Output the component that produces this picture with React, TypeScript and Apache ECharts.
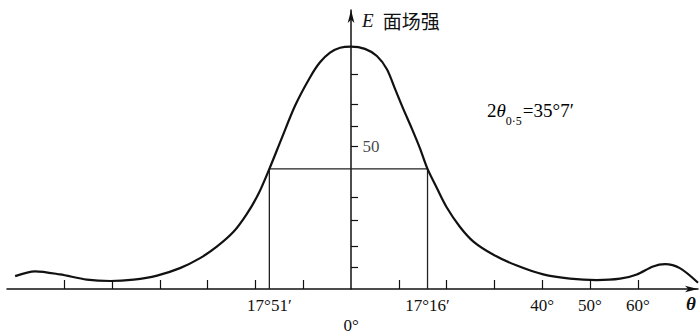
import React, { useEffect, useRef } from "react";
import * as echarts from "echarts";

// Angle (degrees) and relative field strength
const thetaDeg = [-70.3, -66.1, -60.9, -55.3, -50.4, -45.5, -40.6, -35.8, -31.6, -28.1, -24.6, -21.8, -19.4, -17.1, -14.5, -11.7, -8.6, -6.5, -4.4, -2.3, 0, 2.9, 5.4, 7.5, 9.2, 10.9, 12.7, 14.4, 16.0, 17.9, 20.0, 22.8, 25.6, 29.8, 34.7, 40.2, 45.8, 51.4, 56.3, 59.8, 63.2, 65.7, 68.8, 72.6];
const fieldE = [4.5, 6.2, 5.1, 3.3, 2.8, 3.3, 4.7, 7.3, 10.8, 14.8, 20.0, 26.3, 33.2, 42.0, 52.8, 64.2, 74.0, 79.3, 82.7, 84.4, 84.8, 84.0, 81.5, 76.9, 70.0, 63.1, 56.2, 49.3, 42.0, 35.5, 28.6, 21.7, 16.6, 12.0, 8.2, 5.1, 3.6, 3.1, 3.6, 5.1, 7.9, 8.7, 7.3, 2.2];

// Half-power construction
const halfLeft = -17.1;
const halfRight = 16.0;
const halfLevel = 42.0;

// Axis ticks and labels
const xTickValues = [-60, -50, -40, -30, -20, -10, 10, 20, 30, 40, 50, 60];
const xLabelValues = [halfLeft, 0, halfRight, 40, 50, 60];
const xLabelTexts = ["17°51′", "\n0°", "17°16′", "40°", "50°", "60°"];
const yTickValues = [7.5, 15, 24, 32, 50, 57, 64.5, 75];
const yLabelValues = [50];
const yLabelTexts = ["50"];

const SERIF = "Liberation Serif";
const CJK = "Noto Sans CJK SC";

export default function App() {
  const ref = useRef<HTMLDivElement>(null);
  useEffect(() => {
    if (!ref.current) return;
    const chart = echarts.init(ref.current, null, { renderer: "svg" });
    const curve = thetaDeg.map((t, i) => [t, fieldE[i]]);
    const halfLines = [
      [halfLeft, 0],
      [halfLeft, halfLevel],
      [halfRight, halfLevel],
      [halfRight, 0],
    ];
    chart.setOption({
      animation: false,
      backgroundColor: "#fff",
      textStyle: { fontFamily: SERIF },
      grid: { left: 7, right: 2, top: 10, bottom: 42 },
      xAxis: {
        type: "value",
        min: -72,
        max: 72.6,
        name: "θ",
        nameLocation: "end",
        nameGap: -7,
        nameTextStyle: {
          fontFamily: SERIF,
          fontStyle: "italic",
          fontWeight: "bold",
          fontSize: 19,
          color: "#111",
          align: "center",
          verticalAlign: "top",
          padding: [5, 0, 0, 0],
        },
        axisLine: {
          onZero: true,
          symbol: ["none", "arrow"],
          symbolSize: [5, 13],
          lineStyle: { color: "#111", width: 1.5 },
        },
        axisTick: {
          show: true,
          inside: true,
          length: 9,
          customValues: xTickValues,
          lineStyle: { color: "#111", width: 1.2 },
        },
        axisLabel: {
          show: true,
          customValues: xLabelValues,
          margin: 6,
          fontFamily: SERIF,
          fontSize: 17,
          lineHeight: 20,
          color: "#111",
          formatter: (v: number) => {
            const i = xLabelValues.findIndex((x) => Math.abs(x - v) < 1e-6);
            return i >= 0 ? xLabelTexts[i] : "";
          },
        },
        splitLine: { show: false },
      },
      yAxis: {
        type: "value",
        min: 0,
        max: 97.6,
        name: "{e|E}{c|面场强}",
        nameLocation: "end",
        nameGap: -10,
        nameTextStyle: {
          align: "left",
          verticalAlign: "middle",
          padding: [0, 0, 0, 11],
          rich: {
            e: { fontFamily: SERIF, fontStyle: "italic", fontSize: 19, color: "#111" },
            c: { fontFamily: CJK, fontSize: 19, color: "#111", padding: [0, 0, 0, 9] },
          },
        },
        axisLine: {
          onZero: true,
          symbol: ["none", "arrow"],
          symbolSize: [5, 13],
          lineStyle: { color: "#111", width: 1.5 },
        },
        axisTick: {
          show: true,
          inside: true,
          length: 7,
          customValues: yTickValues,
          lineStyle: { color: "#111", width: 1.2 },
        },
        axisLabel: { show: false },
        splitLine: { show: false },
      },
      graphic: [
        {
          type: "text",
          left: 487,
          top: 101,
          style: {
            text: "{a|2}{t|θ}{s|0·5}{a|=35°7′}",
            rich: {
              a: { fontFamily: SERIF, fontSize: 19, color: "#111", lineHeight: 22, verticalAlign: "middle" },
              t: { fontFamily: SERIF, fontStyle: "italic", fontSize: 19, color: "#111", lineHeight: 22, verticalAlign: "middle" },
              s: { fontFamily: SERIF, fontSize: 12, color: "#111", lineHeight: 12, verticalAlign: "bottom", padding: [0, 1, -5, 0] },
            },
          },
        },
      ],
      series: [
        {
          type: "line",
          data: curve,
          smooth: 0.3,
          showSymbol: false,
          lineStyle: { color: "#111", width: 2.2 },
          z: 3,
        },
        {
          type: "line",
          data: halfLines,
          smooth: false,
          showSymbol: false,
          lineStyle: { color: "#222", width: 1.3 },
          z: 2,
        },
        {
          type: "scatter",
          data: yLabelValues.map((v) => [0, v]),
          symbolSize: 1,
          itemStyle: { color: "rgba(0,0,0,0)" },
          silent: true,
          label: {
            show: true,
            position: "right",
            distance: 11,
            fontFamily: SERIF,
            fontSize: 17,
            color: "#111",
            formatter: (p: any) => yLabelTexts[p.dataIndex],
          },
          z: 4,
        },
      ],
    });
    return () => chart.dispose();
  }, []);
  return (
    <div
      ref={ref}
      style={{ position: "fixed", left: 0, top: 0, width: 700, height: 335, background: "#fff" }}
    />
  );
}
